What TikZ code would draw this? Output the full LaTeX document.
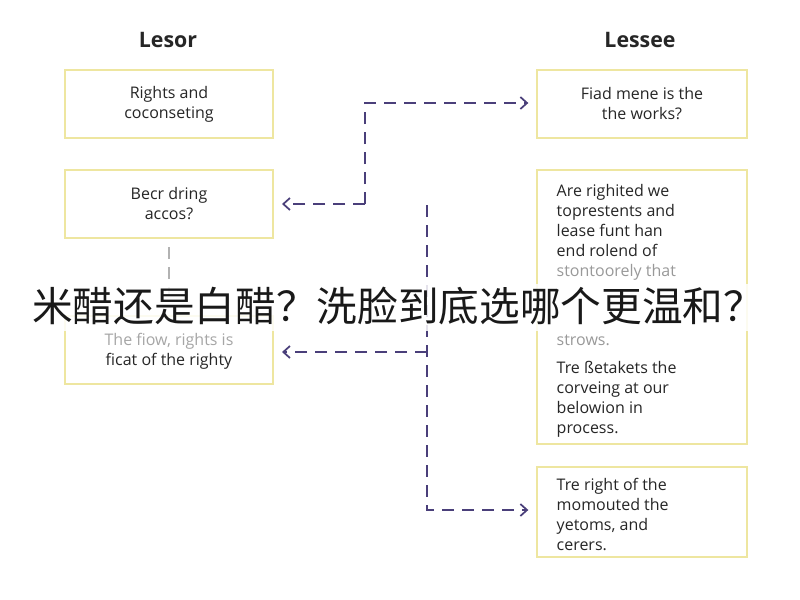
\documentclass[tikz,border=0pt]{standalone}
\usepackage{fontspec}
\setmainfont{Open Sans}
\newfontfamily\cjk{Noto Sans CJK SC}
\usetikzlibrary{arrows.meta}
\definecolor{boxy}{HTML}{EEE6A0}
\definecolor{arr}{HTML}{4A3F7A}
\begin{document}
\begin{tikzpicture}[x=0.75pt,y=-0.75pt,
  box/.style={draw=boxy,line width=1.5pt,fill=white,inner sep=0pt},
  txt/.style={font=\fontsize{12}{15}\selectfont,text=black!85,align=left},
  ttl/.style={font=\fontsize{16}{18}\selectfont\bfseries,text=black!85},
  con/.style={draw=arr,line width=1.3pt,dash pattern=on 9pt off 6pt,-{Straight Barb[length=5pt,width=9pt]}}]
\useasboundingbox (0,0) rectangle (800,600);
\fill[white] (0,0) rectangle (800,600);
\node[ttl] (lesor) at (168,40) {Lesor};
\node[ttl] (lessee) at (640,40) {Lessee};
\node[box,minimum width=156pt,minimum height=51pt] (b1) at (169,104) {};
\node[txt,align=center] at (b1) {Rights and\\coconseting};
\node[box,minimum width=156pt,minimum height=51pt] (b2) at (169,204) {};
\node[txt,align=center] at (b2) {Becr dring\\accos?};
\node[box,minimum width=156pt,minimum height=51pt] (b3) at (169,350) {};
\node[txt,align=center] at ([yshift=-1pt]b3) {\textcolor{black!35}{The fiow, rights is}\\ficat of the righty};
\node[box,minimum width=157pt,minimum height=51pt] (r1) at (642,104) {};
\node[txt,align=center] at (r1) {Fiad mene is the\\the works?};
\node[box,minimum width=157pt,minimum height=206pt] (r2) at (642,307) {};
\node[txt,anchor=north west] at (552,180) {Are righited we\\toprestents and\\lease funt han\\end rolend of\\\textcolor{black!40}{stontoorely that}};
\node[txt,anchor=north west] at (552,330) {\textcolor{black!40}{strows.}};
\node[txt,anchor=north west] at (552,357) {Tre ßetakets the\\corveing at our\\belowion in\\process.};
\node[box,minimum width=157pt,minimum height=67pt] (r3) at (642,512) {};
\node[txt,anchor=north west] at (552,474) {Tre right of the\\momouted the\\yetoms, and\\cerers.};
\coordinate (j1) at (365,204);
\coordinate (j2) at (365,103);
\draw[con] (j1) -- (j2) -- ([xshift=-6pt]r1.west|-j2);
\draw[con] (j1) -- ([xshift=6pt]b2.east);
\coordinate (v1) at (427,205);
\coordinate (v2) at (427,510);
\coordinate (v3) at (427,352);
\draw[con] (v1) -- (v2) -- ([xshift=-6pt]r3.west|-v2);
\draw[con] (v3) -- ([xshift=6pt]b3.east|-v3);
\draw[black!30,line width=1.3pt,dash pattern=on 9pt off 6pt] (b2.south)++(0,8) -- (169,295);
\fill[white,opacity=0.85] (0,284) rectangle (800,331);
\node[font=\cjk\fontsize{30.5}{34}\selectfont,text=black!90] (banner) at (398,306) {米醋还是白醋？洗脸到底选哪个更温和？};
\end{tikzpicture}
\end{document}
